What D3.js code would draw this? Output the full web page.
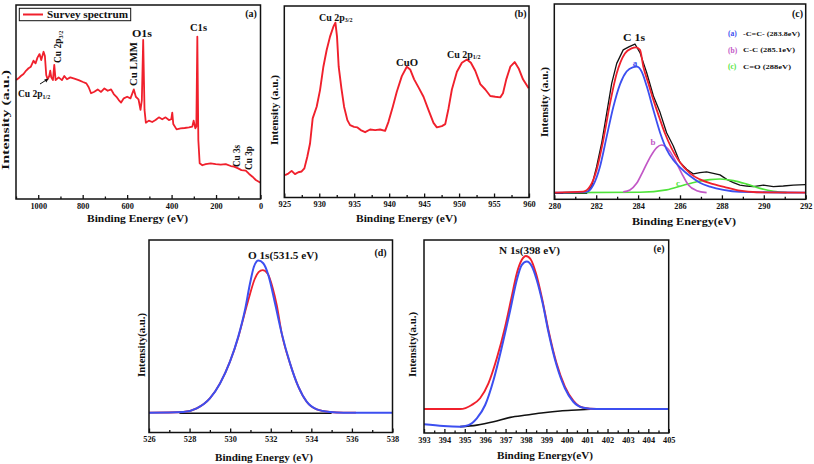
<!DOCTYPE html>
<html><head><meta charset="utf-8">
<script src="https://cdn.jsdelivr.net/npm/d3@7/dist/d3.min.js"></script>
<style>
body{margin:0;background:#fff}
svg text{font-family:"Liberation Serif","Times New Roman",serif;font-weight:bold;fill:#111}
</style>
</head><body>
<svg id="chart" width="814" height="464"></svg>
<script>
// ---------------- DATA (binding energy eV, intensity a.u. 0-100) ----------------
const surveySpectrum = [[1099.3,61.3],[1088.8,62.2],[1078.2,63.4],[1066.2,64.4],[1054.2,66.2],[1043.6,67.4],[1033.1,68.2],[1021.1,71.3],[1012.1,69.9],[1003.0,73.0],[994.0,74.7],[986.5,71.6],[976.0,75.9],[970.0,73.7],[964.0,63.9],[957.9,61.7],[950.4,63.4],[945.9,66.2],[941.4,62.7],[933.9,61.3],[927.8,69.1],[921.8,61.3],[908.3,62.7],[893.3,61.3],[882.7,63.4],[870.7,61.7],[855.7,62.7],[837.6,62.0],[818.1,61.3],[798.5,60.3],[783.5,59.6],[773.0,57.6],[762.4,54.5],[747.4,55.3],[732.4,56.5],[717.3,55.2],[702.3,57.0],[687.2,55.8],[672.2,56.5],[660.2,54.1],[648.1,52.7],[637.6,51.0],[627.1,49.7],[615.1,51.9],[600.0,52.7],[585.0,51.9],[569.9,56.5],[560.9,52.7],[548.9,51.4],[539.9,45.9],[533.8,51.0],[527.8,82.0],[521.8,45.9],[515.8,39.3],[502.3,40.4],[487.2,39.7],[472.2,40.7],[457.2,42.1],[442.1,41.1],[427.1,42.1],[412.0,40.7],[401.5,41.1],[397.0,44.5],[392.5,38.7],[377.5,35.9],[359.4,36.4],[341.4,36.6],[321.8,36.9],[306.8,37.3],[300.8,40.4],[293.2,36.4],[288.7,37.3],[284.2,83.7],[279.7,30.4],[273.7,18.4],[261.7,17.4],[246.6,18.0],[224.1,18.4],[201.5,18.0],[179.0,17.7],[156.4,18.0],[133.8,17.0],[118.8,16.7],[100.8,15.8],[85.7,14.9],[66.2,14.6],[51.1,12.9],[36.1,11.5],[21.1,9.8],[0,8.4]];

const cu2pSpectrum = [[925.1,11.7],[925.57,12.5],[926.05,13.9],[926.53,12.2],[927.0,13.2],[927.48,13.6],[927.87,15.2],[928.29,21.3],[928.68,28.2],[929.06,41.3],[929.63,47.4],[930.11,56.1],[930.59,68.3],[931.06,77.0],[931.54,84.0],[932.02,89.2],[932.31,91.3],[932.54,84.0],[932.78,68.3],[933.17,57.0],[933.55,47.4],[934.02,40.4],[934.41,37.8],[934.98,36.9],[935.46,36.6],[935.93,35.2],[936.56,34.1],[937.27,35.5],[937.99,35.2],[938.7,35.5],[939.42,34.8],[939.9,39.5],[940.52,47.4],[941.09,55.2],[941.81,63.4],[942.52,68.3],[943.0,66.9],[943.57,61.7],[944.2,57.5],[944.91,52.6],[945.63,45.6],[946.34,39.0],[946.82,36.6],[947.54,37.3],[948.02,38.3],[948.49,46.5],[948.97,56.4],[949.69,65.7],[950.4,70.4],[951.12,72.1],[951.69,70.4],[952.31,66.2],[953.03,59.2],[953.75,56.4],[954.46,53.0],[955.18,52.6],[955.89,52.3],[956.28,54.4],[956.75,61.7],[957.33,68.3],[957.95,70.7],[958.52,67.4],[959.14,61.7],[959.95,57.0]];

const c1sRaw = [[280.0,3.1],[281.54,3.1],[281.78,6.5],[282.02,16.7],[282.26,28.7],[282.5,44.0],[282.74,59.4],[282.98,69.6],[283.29,76.5],[283.58,78.2],[283.85,79.5],[284.09,75.1],[284.41,64.8],[284.73,52.9],[285.05,44.4],[285.36,34.1],[285.68,27.3],[286.0,18.8],[286.32,15.4],[286.64,13.0],[286.95,13.7],[287.27,14.0],[287.59,13.3],[287.91,12.5],[288.23,10.2],[288.55,8.5],[288.86,7.3],[289.18,6.8],[289.5,6.5],[289.98,7.3],[290.46,6.5],[290.93,6.8],[291.41,7.3],[291.97,7.5]];
const c1sFit = [[280.0,3.4],[281.38,3.9],[281.7,6.5],[282.02,15.0],[282.34,30.4],[282.66,49.1],[282.98,64.5],[283.37,74.7],[283.69,77.3],[283.9,77.8],[284.09,76.5],[284.25,67.9],[284.49,59.4],[284.73,50.9],[285.0,42.3],[285.28,33.8],[285.6,26.1],[285.92,20.1],[286.48,13.3],[286.95,10.2],[287.59,7.8],[288.23,6.0],[288.86,4.4],[289.66,3.6],[292.0,3.4]];
const c1sPeakA = [[280.0,3.4],[281.54,3.8],[281.86,7.3],[282.18,16.7],[282.5,32.1],[282.82,47.4],[283.14,59.0],[283.45,65.4],[283.74,67.6],[283.93,67.9],[284.17,65.4],[284.41,58.0],[284.73,45.7],[285.05,34.1],[285.36,25.6],[285.68,20.1],[286.0,16.4],[286.48,11.9],[286.95,8.5],[287.43,6.5],[288.07,4.8],[288.86,3.8],[292.0,3.4]];
const c1sPeakB = [[283.29,3.8],[283.61,4.8],[283.93,8.2],[284.25,14.7],[284.57,21.5],[284.89,26.5],[285.12,27.8],[285.44,25.6],[285.76,20.1],[286.08,13.3],[286.4,7.3],[286.8,4.4],[287.27,3.4]];
const c1sPeakC = [[280.43,3.4],[284.09,3.6],[285.36,4.8],[286.16,7.2],[286.8,9.0],[287.43,10.1],[287.91,10.4],[288.55,9.6],[289.18,7.8],[289.82,5.6],[290.46,4.1],[291.09,3.4]];

const o1sEnvelope = [[526.0,10.3],[527.69,10.65],[528.35,12.55],[529.0,17.75],[529.5,25.5],[529.99,36.8],[530.4,49.8],[530.73,63.6],[530.98,77.5],[531.17,86.1],[531.39,89.3],[531.63,87.9],[531.88,81.8],[532.21,67.1],[532.54,51.5],[532.95,35.9],[533.36,23.8],[533.77,16.0],[534.27,12.0],[534.92,10.65],[535.58,10.3],[538.0,10.3]];
const o1sPeak = [[526.0,10.3],[527.69,10.65],[528.35,12.55],[529.0,17.75],[529.5,25.5],[529.99,36.8],[530.4,49.5],[530.73,62.5],[530.98,72.0],[531.2,79.5],[531.4,83.3],[531.6,84.4],[531.85,82.5],[532.1,75.0],[532.3,66.0],[532.54,51.5],[532.95,35.9],[533.36,23.8],[533.77,16.0],[534.27,12.0],[534.92,10.65],[535.58,10.3],[536.2,10.3]];
const o1sBackground = [[527.5,10.0],[535.0,10.0]];

const n1sEnvelope = [[393.0,12.4],[394.77,12.4],[395.34,14.5],[395.75,18.0],[396.16,25.7],[396.57,38.7],[396.98,55.1],[397.3,70.6],[397.55,82.7],[397.79,89.6],[398.0,91.7],[398.23,90.0],[398.49,82.7],[398.77,70.6],[399.1,53.4],[399.5,36.1],[399.91,24.0],[400.32,16.8],[400.81,13.1],[401.46,12.4],[405.0,12.4]];
const n1sPeak = [[393.0,4.5],[393.95,3.6],[394.77,3.3],[395.18,4.1],[395.59,7.6],[396.0,14.5],[396.41,27.5],[396.82,44.7],[397.23,63.7],[397.55,79.3],[397.79,87.0],[398.04,88.8],[398.28,86.5],[398.53,79.3],[398.82,67.2],[399.1,52.5],[399.5,35.2],[399.91,23.2],[400.32,16.2],[400.81,13.1],[401.46,12.4],[405.0,12.4]];
const n1sBackground = [[394.77,3.3],[395.59,4.1],[396.41,5.8],[397.23,8.1],[398.04,9.3],[398.86,10.5],[399.68,11.4],[400.49,11.9],[401.15,12.3]];

const xDomains = {a:[1100,0], b:[925,960], c:[280,292], d:[526,538], e:[393,405]};
const majorSteps = {a:200, b:5, c:2, d:2, e:1};

// ---------------- DRAWING ----------------
const svg = d3.select("#chart");
const RED="#f0202c", BLUE="#3c4ff0", MAG="#c257c6", GRN="#4fe33a", BLK="#111";

const boxes = {
  a:{x0:16,x1:260.5,y0:5,y1:199},
  b:{x0:284.3,x1:529,y0:6,y1:197.5},
  c:{x0:554.3,x1:805.7,y0:4,y1:199.3},
  d:{x0:149,x1:392.5,y0:240,y1:432.5},
  e:{x0:424,x1:668.7,y0:240,y1:433}
};

function txt(x,y,s,o={}){
  const t = svg.append("text").attr("x",x).attr("y",y).attr("dy","0.35em")
    .attr("font-size",o.size||10).attr("text-anchor",o.anchor||"start").text(s);
  if(o.fill) t.style("fill",o.fill);
  if(o.len) t.attr("textLength",o.len).attr("lengthAdjust","spacingAndGlyphs");
  if(o.rot) t.attr("transform",`rotate(-90,${x},${y})`);
  return t;
}
function sub(t,s,size){ t.append("tspan").attr("font-size",size||6).attr("dy","0.25em").text(s); return t; }

const panels = {};
for(const k of Object.keys(boxes)){
  const b = boxes[k];
  const x = d3.scaleLinear().domain(xDomains[k]).range([b.x0,b.x1]);
  const y = d3.scaleLinear().domain([0,100]).range([b.y1,b.y0]);
  panels[k] = {x,y,b};
  const step = majorSteps[k];
  const lo = Math.min(...xDomains[k]), hi = Math.max(...xDomains[k]);
  const majors = d3.range(Math.ceil(lo/step)*step, hi+1e-9, step);
  const minors = d3.range(Math.ceil(lo/(step/2))*(step/2), hi+1e-9, step/2)
      .filter(v=>Math.abs(v/step-Math.round(v/step))>1e-6);
  const gx = svg.append("g").attr("transform",`translate(0,${b.y1})`);
  gx.call(d3.axisBottom(x).tickValues(majors).tickSize(-4).tickPadding(4).tickFormat(d3.format("d")));
  gx.append("g").call(d3.axisBottom(x).tickValues(minors).tickSize(-2.5).tickFormat(""));
  gx.selectAll(".domain").remove();
  gx.selectAll("line").attr("stroke",BLK).attr("stroke-width",1.3);
  gx.selectAll("text").attr("font-family",null).attr("font-size",8.3).style("fill",BLK);
  gx.attr("font-family",null);
}

function draw(k,data,color,w,smooth){
  const {x,y} = panels[k];
  const line = d3.line().x(d=>x(d[0])).y(d=>y(d[1])).curve(smooth?d3.curveMonotoneX:d3.curveLinear);
  svg.append("path").datum(data).attr("d",line).attr("fill","none")
    .attr("stroke",color).attr("stroke-width",w).attr("stroke-linejoin","round");
}

// (a)
draw("a",surveySpectrum,RED,1.8,false);
// (b)
draw("b",cu2pSpectrum,RED,1.9,false);
// (c)
draw("c",c1sRaw,BLK,1.3,false);
draw("c",c1sPeakC,GRN,1.7,true);
draw("c",c1sPeakB,MAG,1.7,true);
draw("c",c1sPeakA,BLUE,1.8,true);
draw("c",c1sFit,RED,1.8,true);
// (d)
draw("d",o1sBackground,BLK,1.6,false);
draw("d",o1sPeak,RED,1.8,true);
draw("d",o1sEnvelope,BLUE,2,true);
// (e)
draw("e",n1sBackground,BLK,1.6,true);
draw("e",n1sEnvelope,RED,1.9,true);
draw("e",n1sPeak,BLUE,2,true);

// frames
for(const k of Object.keys(boxes)){
  const b = boxes[k];
  svg.append("rect").attr("x",b.x0).attr("y",b.y0).attr("width",b.x1-b.x0).attr("height",b.y1-b.y0)
    .attr("fill","none").attr("stroke",BLK).attr("stroke-width",1.5);
}

// axis titles
txt(137.5,218,"Binding Energy (eV)",{size:10.5,anchor:"middle",len:101});
txt(406.5,218,"Binding Energy (eV)",{size:10.5,anchor:"middle",len:101});
txt(684,221,"Binding Energy(eV)",{size:10.5,anchor:"middle",len:104});
txt(264,457,"Binding Energy (eV)",{size:10.5,anchor:"middle",len:98});
txt(545,455,"Binding Energy(eV)",{size:10.5,anchor:"middle",len:96});
txt(5,120,"Intensity (a.u.)",{size:10.5,anchor:"middle",len:100,rot:true});
txt(275,110,"Intensity (a.u.)",{size:9.5,anchor:"middle",len:70,rot:true});
txt(545,102,"Intensity (a.u.)",{size:9.5,anchor:"middle",len:70,rot:true});
txt(142,345,"Intensity(a.u.)",{size:9.5,anchor:"middle",len:64,rot:true});
txt(413,344.5,"Intensity(a.u.)",{size:9.5,anchor:"middle",len:65,rot:true});

// panel letters
txt(251,13,"(a)",{size:10,anchor:"middle"});
txt(520.5,13,"(b)",{size:10,anchor:"middle"});
txt(797.5,13,"(c)",{size:10,anchor:"middle"});
txt(380.5,252,"(d)",{size:10,anchor:"middle"});
txt(659,248,"(e)",{size:10,anchor:"middle"});

// (a) legend + annotations
svg.append("rect").attr("x",19.3).attr("y",8.3).attr("width",111.4).attr("height",12.4)
  .attr("fill","#fff").attr("stroke",BLK).attr("stroke-width",1);
svg.append("line").attr("x1",23).attr("x2",43).attr("y1",14.5).attr("y2",14.5).attr("stroke",RED).attr("stroke-width",2);
txt(47,14.5,"Survey spectrum",{size:10,len:81});
sub(txt(58,63,"Cu 2p",{size:9.5,rot:true}),"3/2",6);
sub(txt(18,94,"Cu 2p",{size:9.5}),"1/2",6);
svg.append("line").attr("x1",40).attr("y1",84).attr("x2",47).attr("y2",79.5).attr("stroke",BLK).attr("stroke-width",1);
svg.append("path").attr("d","M48.5,78.5 L44.2,79.6 L46.4,82.6 Z").attr("fill",BLK);
txt(142,33,"O1s",{size:10,anchor:"middle",len:20});
txt(198.5,27,"C1s",{size:10,anchor:"middle",len:17});
txt(134,64,"Cu LMM",{size:9.5,anchor:"middle",len:44,rot:true});
txt(237,156,"Cu 3s",{size:9.5,anchor:"middle",len:22,rot:true});
txt(249,158,"Cu 3p",{size:9.5,anchor:"middle",len:24,rot:true});

// (b) annotations
sub(txt(319,17,"Cu 2p",{size:10}),"3/2",6);
txt(407,62,"CuO",{size:10,anchor:"middle",len:22});
sub(txt(447,54,"Cu 2p",{size:10}),"1/2",6);

// (c) annotations
txt(634,37,"C 1s",{size:10,anchor:"middle",len:22});
txt(635,63,"a",{size:9,anchor:"middle",fill:BLUE});
txt(653,142,"b",{size:9,anchor:"middle",fill:MAG});
txt(678,183,"c",{size:9,anchor:"middle",fill:GRN});
txt(728,33.3,"(a)",{size:7.5,fill:BLUE});
txt(743,33.3,"-C=C- (283.8eV)",{size:7,len:57});
txt(728,50,"(b)",{size:7.5,fill:MAG});
txt(743,50,"C-C (285.1eV)",{size:7,len:52});
txt(728,66.7,"(c)",{size:7.5,fill:GRN});
txt(743,66.7,"C=O (288eV)",{size:7,len:48});

// (d),(e) annotations
txt(283,255,"O 1s(531.5 eV)",{size:10,anchor:"middle",len:70});
txt(529.5,250,"N 1s(398 eV)",{size:10,anchor:"middle",len:61});
</script>
</body></html>
